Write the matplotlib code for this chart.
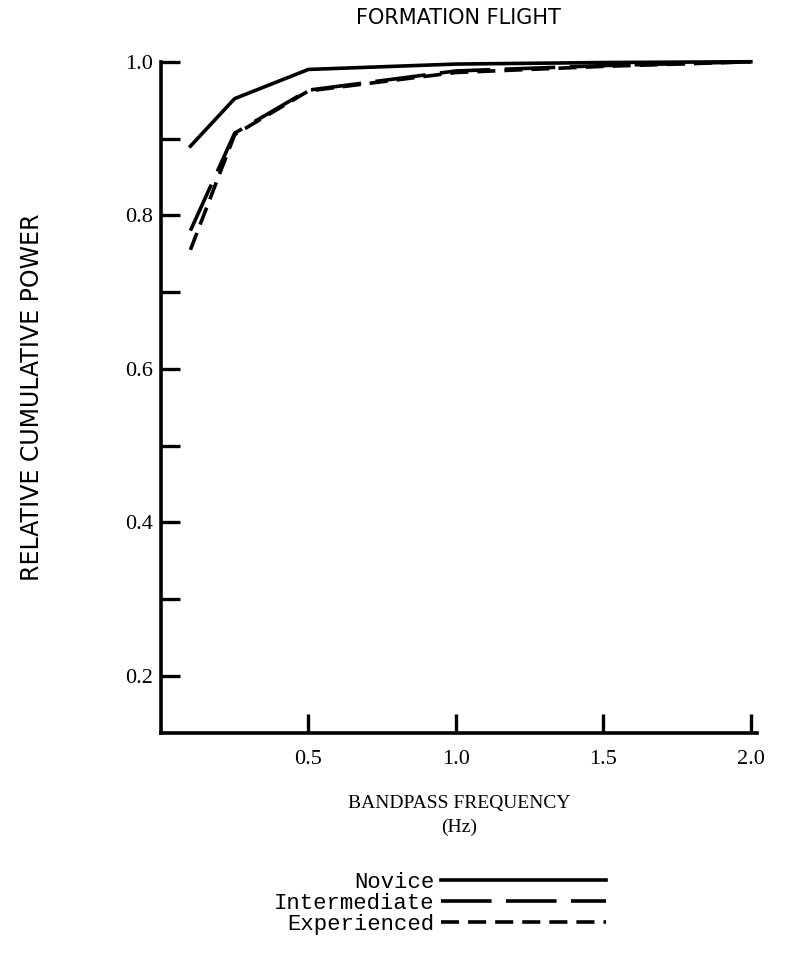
import matplotlib
matplotlib.use("Agg")
from matplotlib import pyplot as plt

freq = [0.1, 0.25, 0.5, 1.0, 1.5, 2.0]
novice = [0.89, 0.952, 0.99, 0.997, 0.999, 1.0]
intermediate = [0.78, 0.907, 0.963, 0.988, 0.995, 1.0]
experienced = [0.755, 0.905, 0.962, 0.986, 0.994, 1.0]

yticks = [0.2, 0.3, 0.4, 0.5, 0.6, 0.7, 0.8, 0.9, 1.0]
ylabels = ['0.2', '', '0.4', '', '0.6', '', '0.8', '', '1.0']
xticks = [0.5, 1.0, 1.5, 2.0]
xlabels = ['0.5', '1.0', '1.5', '2.0']

sans = ['DejaVu Sans']
mono = ['Liberation Mono', 'DejaVu Sans Mono']
serif = ['Liberation Serif', 'DejaVu Serif']

fig = plt.figure(figsize=(7.85, 9.65), dpi=100)
ax = fig.add_axes([0.205, 0.240, 0.759, 0.696])

lw = 2.6
ax.plot(freq, novice, color='black', lw=lw, label='Novice', clip_on=False)
ax.plot(freq, intermediate, color='black', lw=lw, dashes=(14, 4),
        label='Intermediate', clip_on=False)
ax.plot(freq, experienced, color='black', lw=lw, dashes=(5, 2.5),
        label='Experienced', clip_on=False)

ax.set_xlim(0, 2.02)
ax.set_ylim(0.125, 1.0)
for s in ['top', 'right']:
    ax.spines[s].set_visible(False)
for s in ['left', 'bottom']:
    ax.spines[s].set_linewidth(2.6)

ax.set_yticks(yticks)
ax.set_yticklabels(ylabels, family=serif, fontsize=16)
ax.set_xticks(xticks)
ax.set_xticklabels(xlabels, family=serif, fontsize=16)
ax.tick_params(axis='both', direction='in', length=14, width=2.4, color='black')
ax.tick_params(axis='y', pad=6)
ax.tick_params(axis='x', pad=12)

ax.set_title('FORMATION FLIGHT', family=sans, fontsize=15, pad=27)
ax.set_ylabel('RELATIVE CUMULATIVE POWER', family=sans, fontsize=17, labelpad=58)
ax.set_xlabel('BANDPASS FREQUENCY\n(Hz)', family=serif, fontsize=14,
              labelpad=19, linespacing=1.5)

ax.legend(loc='upper center', bbox_to_anchor=(0.468, -0.19), frameon=False,
          markerfirst=False, prop={'family': mono, 'size': 16},
          handlelength=7.4, handletextpad=0.3, labelspacing=0.0,
          borderpad=0)

fig.savefig('out.png', dpi=100)
